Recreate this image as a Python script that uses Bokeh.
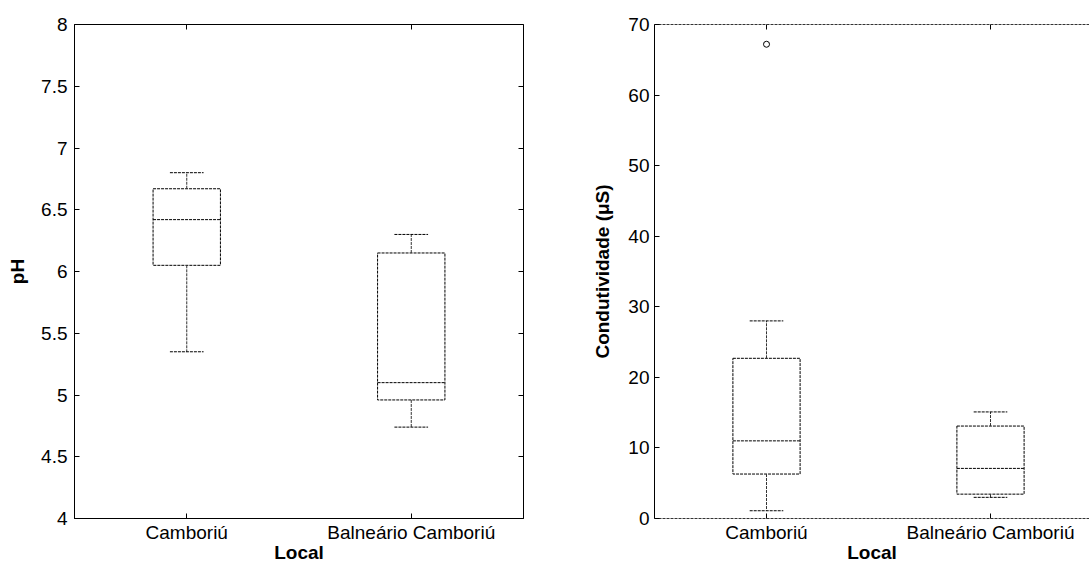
import numpy as np
from bokeh.plotting import figure
from bokeh.models import Range1d, FixedTicker, LinearAxis, CustomJSTickFormatter
from bokeh.layouts import row
from bokeh.embed import file_html
from bokeh.resources import INLINE

# ---------------- data ----------------
categories = ["Camboriú", "Balneário Camboriú"]

ph_lower_whisker = [5.35, 4.74]
ph_q1 = [6.05, 4.96]
ph_median = [6.42, 5.10]
ph_q3 = [6.67, 6.15]
ph_upper_whisker = [6.80, 6.30]
ph_outlier_cat = []
ph_outlier_val = []
ph_ticks = [4, 4.5, 5, 5.5, 6, 6.5, 7, 7.5, 8]

cond_lower_whisker = [1.1, 3.0]
cond_q1 = [6.3, 3.45]
cond_median = [11.0, 7.1]
cond_q3 = [22.7, 13.1]
cond_upper_whisker = [28.0, 15.1]
cond_outlier_cat = ["Camboriú"]
cond_outlier_val = [67.2]
cond_ticks = [0, 10, 20, 30, 40, 50, 60, 70]

# ---------------- style ----------------
FONT = "Liberation Sans"
TICK_FS = "19px"
LABEL_FS = "19px"
DASH = "3 1"
BOX_HALF = 0.15
CAP_HALF = 0.075
H = 565

positions = np.arange(1, len(categories) + 1, dtype=float)
overrides = {int(i + 1): c for i, c in enumerate(categories)}


def blank_axis(ticks, dashed=False, line=True):
    ax = LinearAxis(ticker=FixedTicker(ticks=ticks),
                    formatter=CustomJSTickFormatter(code="return ''"),
                    major_tick_in=5, major_tick_out=0, minor_tick_in=0, minor_tick_out=0,
                    major_label_standoff=0, major_label_text_font_size="1px",
                    major_tick_line_color="black")
    if not line:
        ax.axis_line_color = None
    elif dashed:
        ax.axis_line_dash = DASH
        ax.axis_line_color = "#333333"
    return ax


def make_panel(y_start, y_end, yticks, lw, q1, med, q3, uw, out_cat, out_val,
               ylabel, width, xend, mb_left, mb_right, ylab_standoff, ytick_standoff,
               dashed_frame):
    p = figure(width=width, height=H, x_range=Range1d(0.5, xend),
               y_range=Range1d(y_start, y_end), output_backend="svg",
               toolbar_location=None, min_border_left=mb_left, min_border_right=mb_right,
               min_border_top=24, min_border_bottom=44, background_fill_color="white",
               border_fill_color="white")
    p.xgrid.visible = False
    p.ygrid.visible = False

    # boxes
    p.quad(left=positions - BOX_HALF, right=positions + BOX_HALF, bottom=q1, top=q3,
           fill_color=None, line_color="black", line_dash=DASH, line_width=1)
    # medians
    p.segment(x0=positions - BOX_HALF, x1=positions + BOX_HALF, y0=med, y1=med,
              line_color="black", line_dash=DASH, line_width=1)
    # whiskers
    p.segment(x0=positions, x1=positions, y0=q3, y1=uw,
              line_color="#333333", line_dash=DASH, line_width=1)
    p.segment(x0=positions, x1=positions, y0=q1, y1=lw,
              line_color="#333333", line_dash=DASH, line_width=1)
    # caps
    p.segment(x0=positions - CAP_HALF, x1=positions + CAP_HALF, y0=uw, y1=uw,
              line_color="black", line_dash=DASH, line_width=1)
    p.segment(x0=positions - CAP_HALF, x1=positions + CAP_HALF, y0=lw, y1=lw,
              line_color="black", line_dash=DASH, line_width=1)
    # outliers
    if out_val:
        ox = [positions[categories.index(c)] for c in out_cat]
        p.scatter(x=ox, y=out_val, marker="circle", size=6, fill_color="white",
                  line_color="black", line_width=1)

    # x axis
    xa = p.xaxis[0]
    xa.ticker = FixedTicker(ticks=list(positions))
    xa.major_label_overrides = overrides
    xa.major_tick_in = 5
    xa.major_tick_out = 0
    xa.minor_tick_line_color = None
    xa.major_label_text_font = FONT
    xa.major_label_text_font_size = TICK_FS
    xa.major_label_text_color = "black"
    xa.major_label_standoff = 3
    xa.axis_label = "Local"
    xa.axis_label_text_font = FONT
    xa.axis_label_text_font_size = LABEL_FS
    xa.axis_label_text_font_style = "bold"
    xa.axis_label_text_color = "black"
    xa.axis_label_standoff = -4
    xa.axis_line_color = "black"

    # y axis
    ya = p.yaxis[0]
    ya.ticker = FixedTicker(ticks=yticks)
    ya.formatter = CustomJSTickFormatter(code="return String(tick)")
    ya.major_tick_in = 5
    ya.major_tick_out = 0
    ya.minor_tick_line_color = None
    ya.major_label_text_font = FONT
    ya.major_label_text_font_size = TICK_FS
    ya.major_label_text_color = "black"
    ya.major_label_standoff = ytick_standoff
    ya.axis_label = ylabel
    ya.axis_label_text_font = FONT
    ya.axis_label_text_font_size = LABEL_FS
    ya.axis_label_text_font_style = "bold"
    ya.axis_label_text_color = "black"
    ya.axis_label_standoff = ylab_standoff
    ya.axis_line_color = "black"

    if dashed_frame:
        p.outline_line_color = None
        xa.axis_line_dash = DASH
        xa.axis_line_color = "#333333"
        p.add_layout(blank_axis(list(positions), dashed=True), "above")
    else:
        p.outline_line_color = "black"
        p.outline_line_width = 1
        p.outline_line_alpha = 1
        p.add_layout(blank_axis(list(positions), line=False), "above")
        p.add_layout(blank_axis(yticks, line=False), "right")
    return p


p1 = make_panel(4, 8, ph_ticks, ph_lower_whisker, ph_q1, ph_median, ph_q3,
                ph_upper_whisker, ph_outlier_cat, ph_outlier_val, "pH",
                width=543, xend=2.5, mb_left=74, mb_right=20,
                ylab_standoff=10, ytick_standoff=7, dashed_frame=False)

p2 = make_panel(0, 70, cond_ticks, cond_lower_whisker, cond_q1, cond_median, cond_q3,
                cond_upper_whisker, cond_outlier_cat, cond_outlier_val,
                "Condutividade (μS)",
                width=546, xend=0.5 + 435 / 224, mb_left=111, mb_right=0,
                ylab_standoff=12, ytick_standoff=5, dashed_frame=True)

layout = row(p1, p2)
open("out.html", "w").write(file_html(layout, INLINE))
